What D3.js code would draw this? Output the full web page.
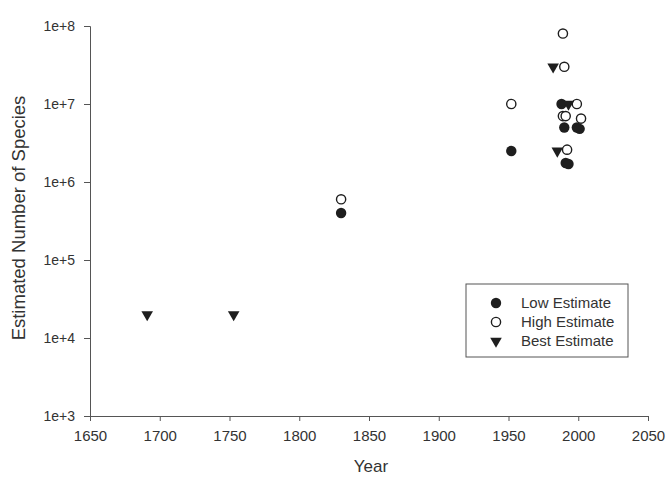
<!DOCTYPE html>
<html>
<head>
<meta charset="utf-8">
<script src="https://cdn.jsdelivr.net/npm/d3@7"></script>
<style>
  body { margin: 0; background: #fff; }
  text { font-family: "Liberation Sans", Arial, sans-serif; fill: #333; }
</style>
</head>
<body>
<div id="chart"></div>
<script>
// estimates: [year, number of species]
var lowEstimate = [
    [1830, 4e5], [1952, 2.5e6], [1988, 1e7], [1990, 5e6],
    [1999, 5e6], [2001, 4.8e6], [1991, 1.75e6], [1993, 1.7e6]
];
var highEstimate = [
    [1830, 6e5], [1952, 1e7], [1989, 8e7], [1990, 3e7], [1999, 1e7],
    [1989, 7e6], [1991, 7e6], [2002, 6.5e6], [1992, 2.6e6]
];
var bestEstimate = [
    [1691, 2e4], [1753, 2e4], [1982, 3e7], [1985, 2.5e6], [1993, 1e7]
];
var yearTicks = [1650, 1700, 1750, 1800, 1850, 1900, 1950, 2000, 2050];
var countTicks = [1e3, 1e4, 1e5, 1e6, 1e7, 1e8];
var legendLabels = ["Low Estimate", "High Estimate", "Best Estimate"];

var margin = { top: 26, right: 20, bottom: 62, left: 90 };
var width = 668 - margin.left - margin.right;
var height = 478 - margin.top - margin.bottom;

var svg = d3.select("#chart").append("svg")
    .attr("width", 668)
    .attr("height", 478)
  .append("g")
    .attr("transform", "translate(" + margin.left + "," + margin.top + ")");

var x = d3.scaleLinear()
    .domain([1650, 2050])
    .range([0, width]);

var y = d3.scaleLog()
    .domain([1e3, 1e8])
    .range([height, 0]);

var xAxis = d3.axisBottom(x)
    .tickValues(yearTicks)
    .tickFormat(d3.format("d"))
    .tickSize(5)
    .tickPadding(9);

var yAxis = d3.axisLeft(y)
    .tickValues(countTicks)
    .tickFormat(function(d) { return "1e+" + Math.round(Math.log10(d)); })
    .tickSize(6)
    .tickPadding(9);

svg.append("g")
    .attr("class", "x-axis axis")
    .attr("transform", "translate(0," + height + ")")
    .call(xAxis)
    .selectAll("text").style("font-size", "15px");

svg.append("g")
    .attr("class", "y-axis axis")
    .call(yAxis)
    .selectAll("text").style("font-size", "14px");

svg.selectAll(".axis path, .axis line").attr("stroke", "#555");
svg.selectAll(".axis text").style("fill", "#333");

// axis titles
svg.append("text")
    .attr("x", width / 2 + 2)
    .attr("y", height + 56)
    .style("text-anchor", "middle")
    .style("font-size", "17px")
    .text("Year");

svg.append("text")
    .attr("transform", "rotate(-90)")
    .attr("x", -192)
    .attr("y", -65)
    .style("text-anchor", "middle")
    .style("font-size", "18.5px")
    .text("Estimated Number of Species");

var ink = "#1e1e1e";
var tri = d3.symbol().type(d3.symbolTriangle).size(58);

function drawLow(sel) {
    sel.append("circle").attr("r", 5.2).attr("fill", ink);
}
function drawHigh(sel) {
    sel.append("circle").attr("r", 4.6).attr("fill", "#fff")
        .attr("stroke", ink).attr("stroke-width", 1.4);
}
function drawBest(sel) {
    sel.append("path").attr("d", tri).attr("fill", ink)
        .attr("transform", "rotate(180)");
}

svg.selectAll(".low").data(lowEstimate).enter()
    .append("g").attr("class", "low")
    .attr("transform", function(d) { return "translate(" + x(d[0]) + "," + y(d[1]) + ")"; })
    .call(drawLow);

svg.selectAll(".high").data(highEstimate).enter()
    .append("g").attr("class", "high")
    .attr("transform", function(d) { return "translate(" + x(d[0]) + "," + y(d[1]) + ")"; })
    .call(drawHigh);

svg.selectAll(".best").data(bestEstimate).enter()
    .append("g").attr("class", "best")
    .attr("transform", function(d) { return "translate(" + x(d[0]) + "," + y(d[1]) + ")"; })
    .call(drawBest);

// legend
var legend = svg.append("g")
    .attr("transform", "translate(" + (466 - margin.left) + "," + (284 - margin.top) + ")");

legend.append("rect")
    .attr("width", 162)
    .attr("height", 73)
    .attr("fill", "#fff")
    .attr("stroke", "#555")
    .attr("stroke-width", 1);

var drawers = [drawLow, drawHigh, drawBest];
legendLabels.forEach(function(label, i) {
    var row = legend.append("g")
        .attr("transform", "translate(30," + (19 + i * 19) + ")");
    drawers[i](row);
    row.append("text")
        .attr("x", 25)
        .attr("y", 5)
        .style("font-size", "15px")
        .text(label);
});
</script>
</body>
</html>
